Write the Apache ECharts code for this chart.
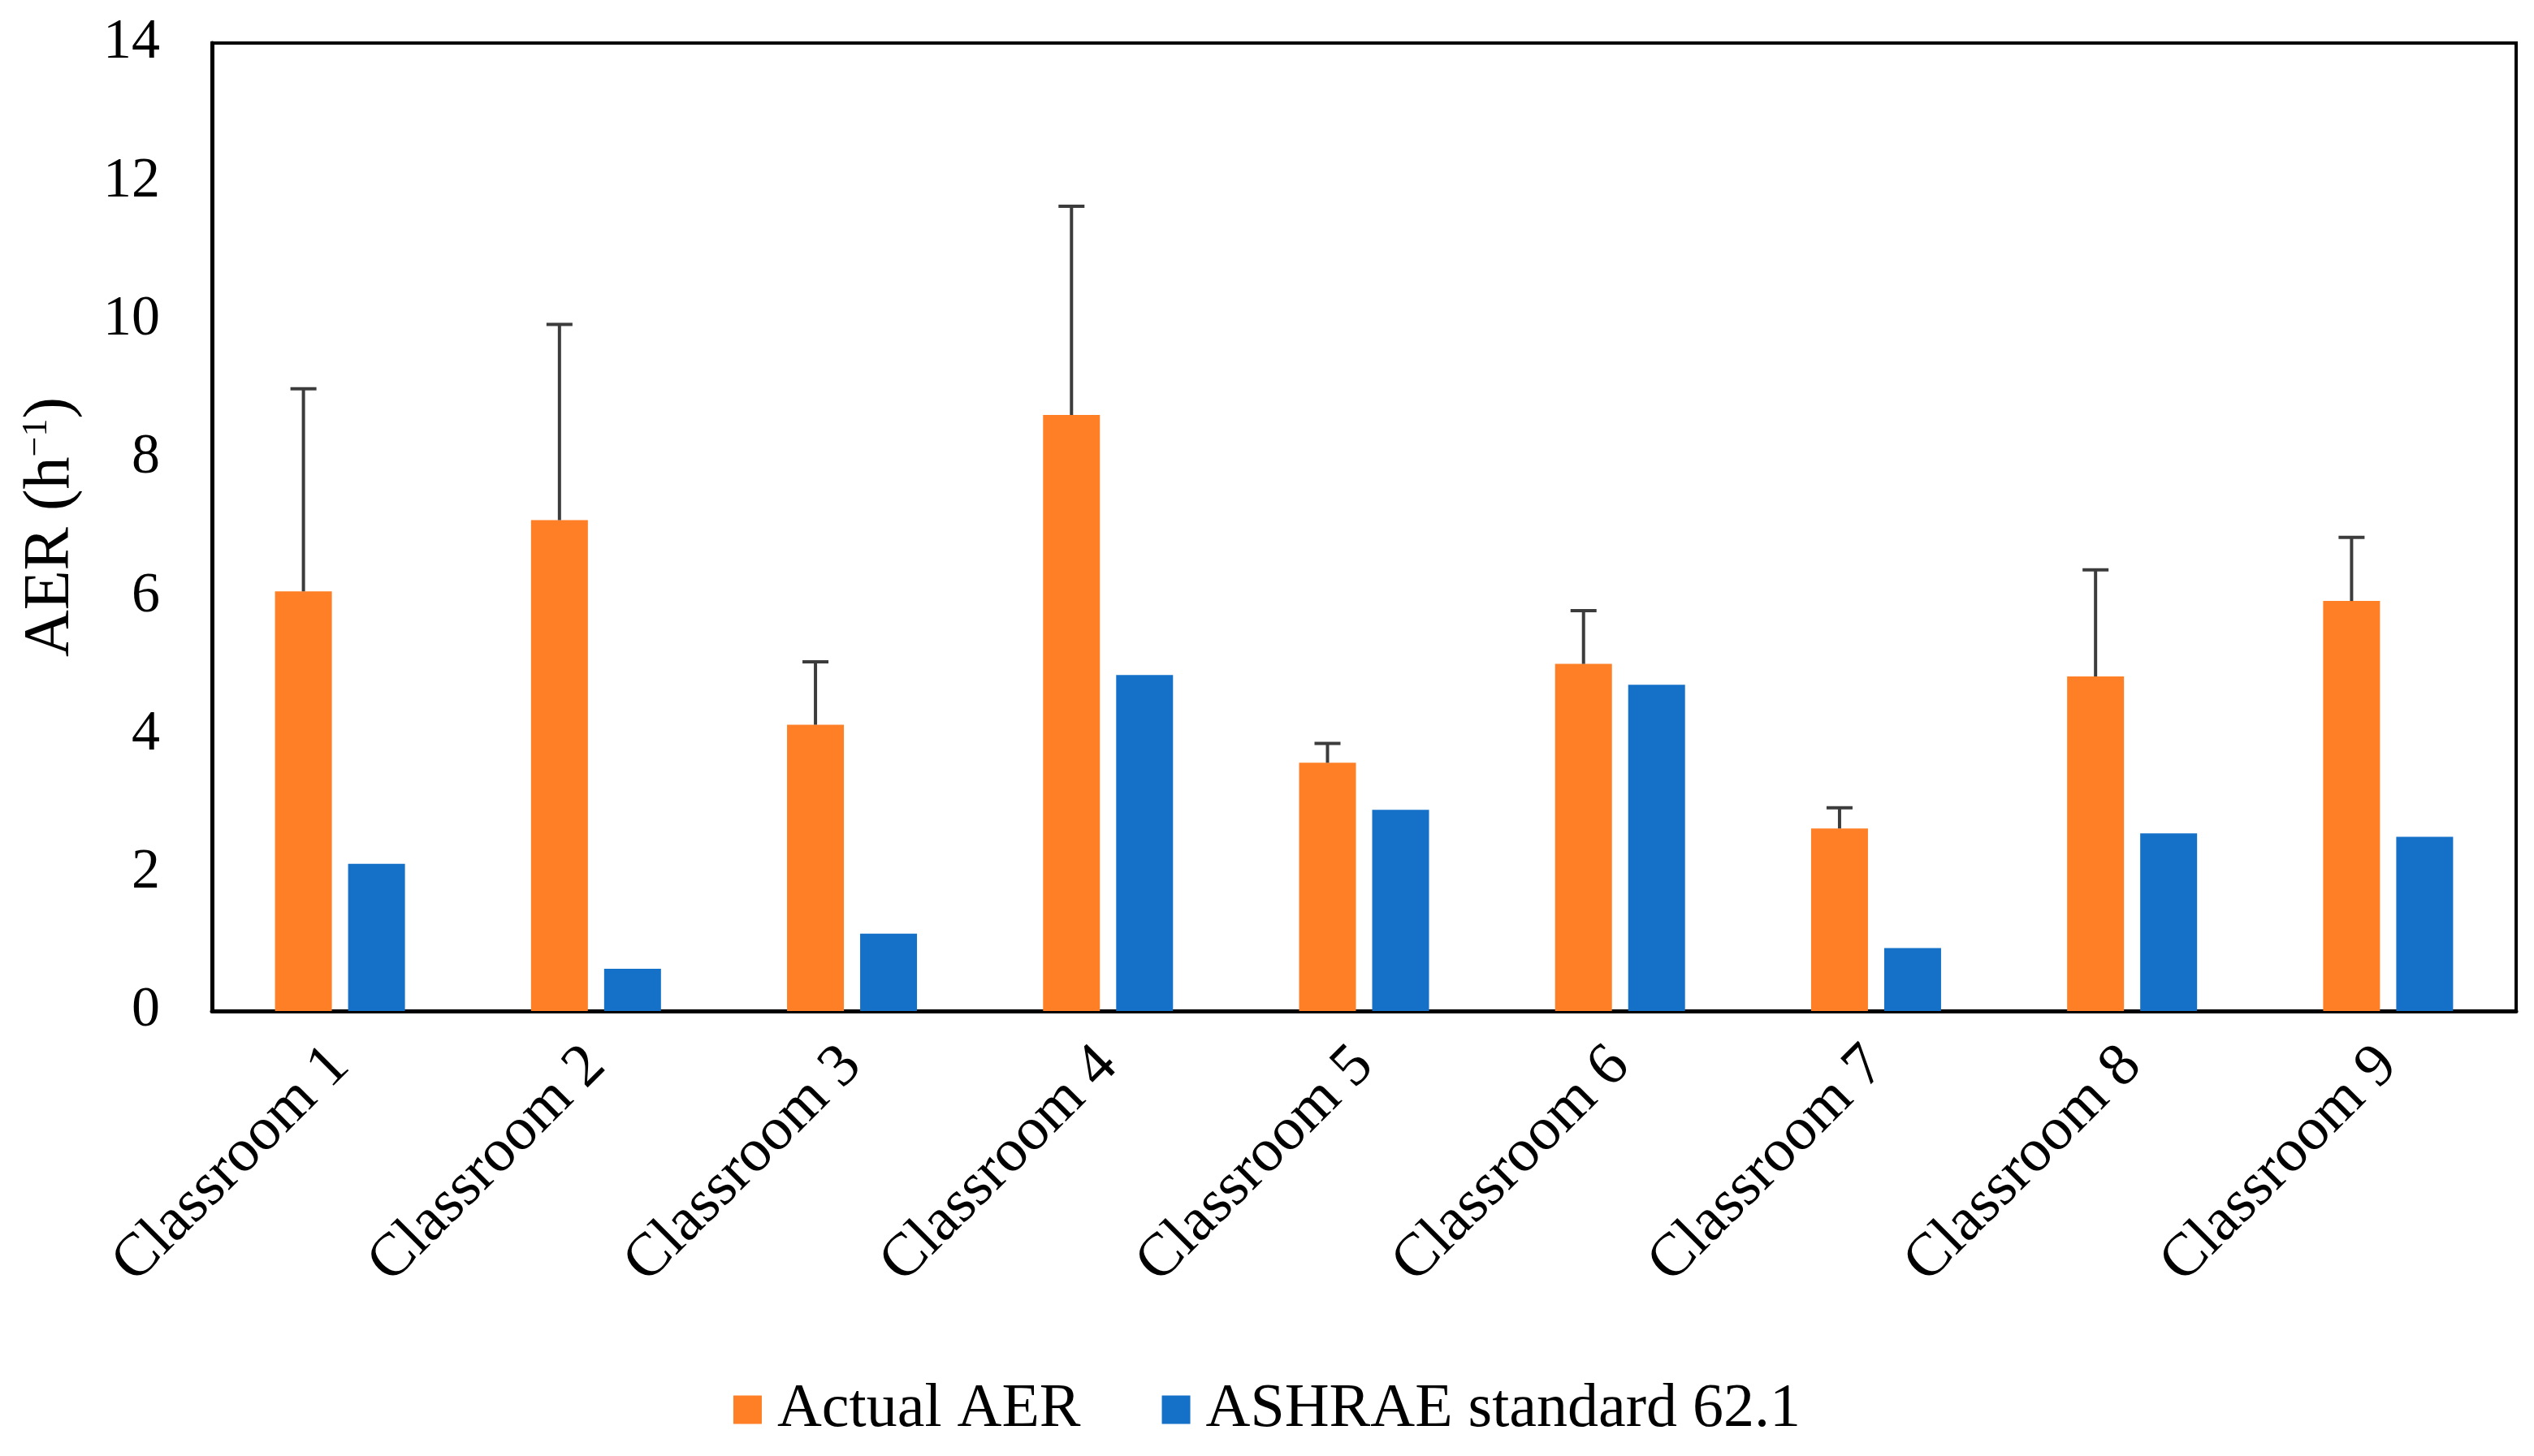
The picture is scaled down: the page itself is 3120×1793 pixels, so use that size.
<!DOCTYPE html>
<html>
<head>
<meta charset="utf-8">
<script src="https://cdn.jsdelivr.net/npm/echarts@6/dist/echarts.min.js"></script>
<style>
html,body{margin:0;padding:0;background:#fff;}
#chart{width:3120px;height:1793px;}
</style>
</head>
<body>
<div id="chart"></div>
<script>
// ---- data ----
const categories = ['Classroom 1','Classroom 2','Classroom 3','Classroom 4','Classroom 5','Classroom 6','Classroom 7','Classroom 8','Classroom 9'];
const actualAER = [6.07, 7.10, 4.14, 8.62, 3.59, 5.02, 2.64, 4.84, 5.93];
const actualErr = [2.93, 2.83, 0.91, 3.02, 0.28, 0.77, 0.30, 1.54, 0.92];
const ashrae = [2.13, 0.61, 1.12, 4.86, 2.91, 4.72, 0.91, 2.57, 2.52];
const yTicks = {min: 0, max: 14, interval: 2};
const seriesNames = ['Actual AER', 'ASHRAE standard 62.1'];

// ---- style ----
const FONT = '"Liberation Serif", "Times New Roman", serif';
const BAR_W = 70, BAR_GAP = 20;
const ORANGE = '#FE7F25', BLUE = '#1570C8';

const chart = echarts.init(document.getElementById('chart'));
const errData = categories.map((c, i) => [i, actualAER[i], actualAER[i] + actualErr[i]]);

chart.setOption({
  animation: false,
  backgroundColor: '#ffffff',
  grid: {left: 261, right: 22, top: 53, bottom: 548, show: true, borderColor: '#000', borderWidth: 4, backgroundColor: 'transparent'},
  legend: {
    data: seriesNames,
    bottom: 14,
    left: 'center',
    itemWidth: 35, itemHeight: 35, itemGap: 100,
    icon: 'rect',
    textStyle: {fontFamily: FONT, fontSize: 76, color: '#000', padding: [0,0,0,14]}
  },
  xAxis: {
    type: 'category',
    data: categories,
    axisLine: {show: true, lineStyle: {color: '#000', width: 5}},
    axisTick: {show: false},
    axisLabel: {rotate: 45, interval: 0, margin: 56, fontFamily: FONT, fontSize: 75, color: '#000'},
    splitLine: {show: false}
  },
  yAxis: {
    type: 'value',
    min: yTicks.min, max: yTicks.max, interval: yTicks.interval,
    axisLine: {show: true, lineStyle: {color: '#000', width: 5}},
    axisTick: {show: false},
    splitLine: {show: false},
    axisLabel: {margin: 64, fontFamily: FONT, fontSize: 70, color: '#000'},
    name: 'AER (h{sup|−1})',
    nameLocation: 'middle',
    nameGap: 158,
    nameTextStyle: {
      fontFamily: FONT, fontSize: 80, color: '#000',
      rich: {sup: {fontFamily: FONT, fontSize: 44, color: '#000', verticalAlign: 'top', padding: [0,0,34,0]}}
    }
  },
  series: [
    {name: seriesNames[0], type: 'bar', data: actualAER, barWidth: BAR_W, barGap: (BAR_GAP / BAR_W * 100) + '%', itemStyle: {color: ORANGE}},
    {name: seriesNames[1], type: 'bar', data: ashrae, barWidth: BAR_W, itemStyle: {color: BLUE}},
    {
      name: 'err', type: 'custom', data: errData, z: 10,
      renderItem: function (params, api) {
        const x = api.value(0);
        const p0 = api.coord([x, api.value(1)]);
        const p1 = api.coord([x, api.value(2)]);
        const off = -(BAR_W + BAR_GAP) / 2;
        const cx = p0[0] + off;
        const half = 16;
        const st = {stroke: '#3c3c3c', lineWidth: 4};
        return {type: 'group', children: [
          {type: 'line', shape: {x1: cx, y1: p0[1], x2: cx, y2: p1[1]}, style: st},
          {type: 'line', shape: {x1: cx - half, y1: p1[1], x2: cx + half, y2: p1[1]}, style: st}
        ]};
      }
    }
  ]
});
</script>
</body>
</html>
